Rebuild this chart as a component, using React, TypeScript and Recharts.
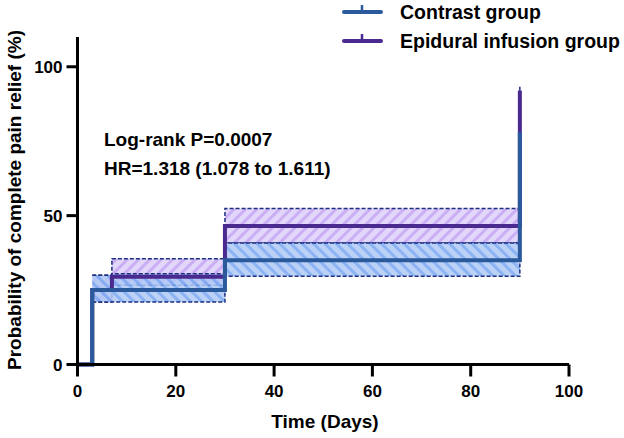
import React from 'react';
import { ComposedChart, Area, Line, XAxis, YAxis, Customized } from 'recharts';

const days = [0, 3, 7, 30, 90];
const contrast = [0, 25, 25, 35, 78];
const epidural = [0, 25, 29.5, 46.5, 92];
const contrastLow = [null, 21, 21, 29.6, 70];
const contrastHigh = [null, 30, 30.5, 40.8, 85];
const epiduralLow = [null, 21, 26.6, 40.8, 86];
const epiduralHigh = [null, 30, 35.5, 52.4, 94];

const xTicks = [0, 20, 40, 60, 80, 100];
const yTicks = [0, 50, 100];

const data = days.map((d, i) => ({
  day: d,
  contrast: contrast[i],
  epidural: epidural[i],
  contrastCI: contrastLow[i] == null ? null : [contrastLow[i], contrastHigh[i]],
  epiduralCI: epiduralLow[i] == null ? null : [epiduralLow[i], epiduralHigh[i]],
}));

const FONT = '"Liberation Sans", Arial, sans-serif';
const BLUE = '#2b5a9c';
const PURPLE = '#4b2a90';
const DASH = '#1c2f80';

const legendItems = [
  { label: 'Contrast group', color: BLUE },
  { label: 'Epidural infusion group', color: PURPLE },
];

// legend + free text, drawn on top of the chart svg
function Annotations() {
  return (
    <g fontFamily={FONT} fontWeight="bold" fill="#000">
      {legendItems.map((it, i) => {
        const y = 12 + i * 29;
        return (
          <g key={it.label}>
            <line x1={344} x2={381} y1={y} y2={y} stroke={it.color} strokeWidth={4} strokeLinecap="round" />
            <line x1={362} x2={362} y1={y - 7} y2={y} stroke={it.color} strokeWidth={2.5} />
            <text x={400} y={y + 7} fontSize={19.5}>{it.label}</text>
          </g>
        );
      })}
      <text x={104} y={146} fontSize={19}>Log-rank P=0.0007</text>
      <text x={104} y={175} fontSize={19}>HR=1.318 (1.078 to 1.611)</text>
      <text x={325} y={428} textAnchor="middle" fontSize={19}>Time (Days)</text>
      <text x={0} y={0} textAnchor="middle" fontSize={19} transform="translate(21 200) rotate(-90)">
        Probability of complete pain relief (%)
      </text>
    </g>
  );
}

export default function App() {
  return (
    <div style={{ position: 'absolute', left: 0, top: 0, background: '#fff' }}>
      <ComposedChart
        width={624}
        height={438}
        data={data}
        margin={{ top: 37, right: 55, bottom: 0, left: 0 }}
      >
        <defs>
          <pattern id="hatchBlue" width="8" height="8" patternUnits="userSpaceOnUse" patternTransform="rotate(-45)">
            <rect width="8" height="8" fill="#b0c9f4" />
            <rect width="3" height="8" fill="#78a6f2" />
          </pattern>
          <pattern id="hatchPurple" width="8" height="8" patternUnits="userSpaceOnUse" patternTransform="rotate(45)">
            <rect width="8" height="8" fill="#cfbaf6" />
            <rect width="3" height="8" fill="#a679ef" />
          </pattern>
        </defs>
        <XAxis
          dataKey="day"
          type="number"
          domain={[0, 100]}
          ticks={xTicks}
          height={73.5}
          tickSize={12}
          tickMargin={8}
          axisLine={{ stroke: '#000', strokeWidth: 3 }}
          tickLine={{ stroke: '#000', strokeWidth: 3 }}
          tick={{ fill: '#000', fontFamily: FONT, fontWeight: 'bold', fontSize: 17 }}
        />
        <YAxis
          type="number"
          domain={[0, 110]}
          ticks={yTicks}
          width={77.5}
          tickSize={11}
          tickMargin={4}
          axisLine={{ stroke: '#000', strokeWidth: 3 }}
          tickLine={{ stroke: '#000', strokeWidth: 3 }}
          tick={{ fill: '#000', fontFamily: FONT, fontWeight: 'bold', fontSize: 17 }}
        />
        <Area
          dataKey="epiduralCI"
          type="stepAfter"
          fill="url(#hatchPurple)"
          stroke={DASH}
          strokeWidth={1.5}
          strokeDasharray="4 2"
          isAnimationActive={false}
        />
        <Line
          dataKey="epidural"
          type="stepAfter"
          stroke={PURPLE}
          strokeWidth={4}
          dot={false}
          isAnimationActive={false}
        />
        <Area
          dataKey="contrastCI"
          type="stepAfter"
          fill="url(#hatchBlue)"
          fillOpacity={0.85}
          stroke={DASH}
          strokeWidth={1.5}
          strokeDasharray="4 2"
          isAnimationActive={false}
        />
        <Line
          dataKey="contrast"
          type="stepAfter"
          stroke={BLUE}
          strokeWidth={4}
          dot={false}
          isAnimationActive={false}
        />
        <Customized component={<Annotations />} />
      </ComposedChart>
    </div>
  );
}
